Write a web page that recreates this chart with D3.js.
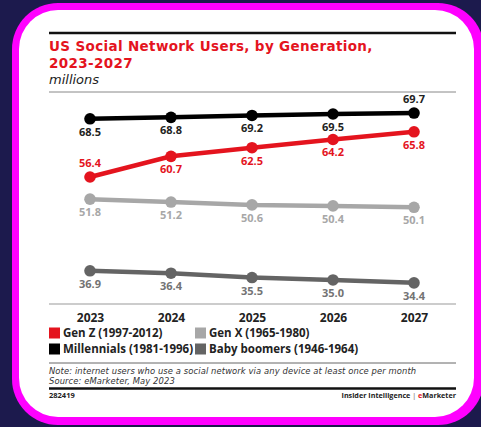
<!DOCTYPE html>
<html>
<head>
<meta charset="utf-8">
<script src="https://cdn.jsdelivr.net/npm/d3@7"></script>
<style>
  html, body { margin: 0; padding: 0; background: #1c1a4d; }
  svg { display: block; }
  text { font-family: "Open Sans", "DejaVu Sans", sans-serif; }
</style>
</head>
<body>
<div id="chart"></div>
<script>
// data
var years = ["2023", "2024", "2025", "2026", "2027"];
var genZ = [56.4, 60.7, 62.5, 64.2, 65.8];
var millennials = [68.5, 68.8, 69.2, 69.5, 69.7];
var genX = [51.8, 51.2, 50.6, 50.4, 50.1];
var boomers = [36.9, 36.4, 35.5, 35.0, 34.4];
var seriesNames = ["Gen Z (1997-2012)", "Millennials (1981-1996)", "Gen X (1965-1980)", "Baby boomers (1946-1964)"];

var width = 481, height = 427;

var series = [
  {name: seriesNames[0], values: genZ, color: "#e4141e", label: "#e4141e", above: [true, false, false, false, false]},
  {name: seriesNames[1], values: millennials, color: "#000000", label: "#222222", above: [false, false, false, false, true]},
  {name: seriesNames[2], values: genX, color: "#a7a7a7", label: "#a7a7a7", above: [false, false, false, false, false]},
  {name: seriesNames[3], values: boomers, color: "#646464", label: "#737373", above: [false, false, false, false, false]}
];

var svg = d3.select("#chart").append("svg")
    .attr("width", width)
    .attr("height", height);

// background + magenta frame + white card
svg.append("rect").attr("width", width).attr("height", height).attr("fill", "#1c1a4d");
svg.append("rect")
    .attr("x", 12).attr("y", 3).attr("width", 472).attr("height", 422)
    .attr("rx", 46).attr("fill", "#ff00ff");
svg.append("rect")
    .attr("x", 19).attr("y", 10).attr("width", 455).attr("height", 407)
    .attr("rx", 39).attr("fill", "#ffffff");

var left = 49, right = 456;

// header
svg.append("line").attr("x1", left).attr("x2", right).attr("y1", 33).attr("y2", 33)
    .attr("stroke", "#111").attr("stroke-width", 2.5);
svg.append("text").attr("x", left).attr("y", 51)
    .attr("fill", "#e4141e").style("font-family", "'DejaVu Sans', sans-serif")
    .style("font-size", "13.5px").style("font-weight", 700).style("letter-spacing", "0.35px")
    .text("US Social Network Users, by Generation,");
svg.append("text").attr("x", left).attr("y", 68)
    .attr("fill", "#e4141e").style("font-family", "'DejaVu Sans', sans-serif")
    .style("font-size", "13.5px").style("font-weight", 700).style("letter-spacing", "0.35px")
    .text("2023-2027");
svg.append("text").attr("x", left).attr("y", 84)
    .attr("fill", "#222").style("font-family", "'DejaVu Sans', sans-serif")
    .style("font-size", "13px").style("font-style", "italic")
    .text("millions");
svg.append("line").attr("x1", left).attr("x2", right).attr("y1", 92).attr("y2", 92)
    .attr("stroke", "#888").attr("stroke-width", 1);

// scales
var xScale = d3.scalePoint().domain(years).range([90, 414]);
var yScale = d3.scaleLinear().domain([30, 70]).range([304, 111.6]);

// x axis
var xAxis = d3.axisBottom(xScale).tickSize(0).tickPadding(9);
var gx = svg.append("g")
    .attr("transform", "translate(0,304)")
    .call(xAxis);
gx.select(".domain").remove();
gx.selectAll("text")
    .style("font-size", "12px").style("font-weight", 700)
    .style("font-family", "'Open Sans', sans-serif")
    .attr("fill", "#222");
svg.append("line").attr("x1", left).attr("x2", right).attr("y1", 304).attr("y2", 304)
    .attr("stroke", "#999").attr("stroke-width", 1);

var line = d3.line()
    .x(function(d, i) { return xScale(years[i]); })
    .y(function(d) { return yScale(d); });

series.forEach(function(s) {
  var g = svg.append("g");
  g.append("path")
    .attr("d", line(s.values))
    .attr("fill", "none")
    .attr("stroke", s.color)
    .attr("stroke-width", 4.5);
  g.selectAll("circle")
    .data(s.values)
   .enter()
    .append("circle")
    .attr("cx", function(d, i) { return xScale(years[i]); })
    .attr("cy", function(d) { return yScale(d); })
    .attr("r", 5.8)
    .attr("fill", s.color);
  g.selectAll("text")
    .data(s.values)
   .enter()
    .append("text")
    .attr("x", function(d, i) { return xScale(years[i]); })
    .attr("y", function(d, i) { return yScale(d) + (s.above[i] ? -10 : 17); })
    .attr("text-anchor", "middle")
    .attr("fill", s.label)
    .style("font-size", "11px").style("font-weight", 700)
    .text(function(d) { return d.toFixed(1); });
});

// legend (two columns, filled down)
var legend = svg.append("g");
series.forEach(function(s, i) {
  var col = Math.floor(i / 2), row = i % 2;
  var lx = left + col * 146, ly = 333 + row * 16;
  legend.append("rect")
    .attr("x", lx).attr("y", ly - 5.5).attr("width", 11).attr("height", 11)
    .attr("fill", s.color);
  legend.append("text")
    .attr("x", lx + 14).attr("y", ly + 4)
    .attr("fill", "#222")
    .style("font-size", "11.5px").style("font-weight", 700)
    .text(s.name);
});

// footer
svg.append("line").attr("x1", left).attr("x2", right).attr("y1", 363).attr("y2", 363)
    .attr("stroke", "#666").attr("stroke-width", 1);
svg.append("text").attr("x", left).attr("y", 374)
    .attr("fill", "#333").style("font-family", "'DejaVu Sans', sans-serif")
    .style("font-size", "8.4px").style("font-style", "italic").style("letter-spacing", "0.1px")
    .text("Note: internet users who use a social network via any device at least once per month");
svg.append("text").attr("x", left).attr("y", 384)
    .attr("fill", "#333").style("font-family", "'DejaVu Sans', sans-serif")
    .style("font-size", "8.4px").style("font-style", "italic").style("letter-spacing", "0.1px")
    .text("Source: eMarketer, May 2023");
svg.append("line").attr("x1", left).attr("x2", right).attr("y1", 388.5).attr("y2", 388.5)
    .attr("stroke", "#111").attr("stroke-width", 2.5);
svg.append("text").attr("x", left).attr("y", 398)
    .attr("fill", "#222").style("font-size", "7.5px").style("font-weight", 700)
    .text("282419");
var brand = svg.append("text").attr("x", right).attr("y", 398)
    .attr("text-anchor", "end")
    .attr("fill", "#222").style("font-size", "7.2px").style("font-weight", 700);
brand.append("tspan").text("Insider Intelligence ");
brand.append("tspan").attr("fill", "#999").text("|");
brand.append("tspan").attr("fill", "#e4141e").text(" e");
brand.append("tspan").text("Marketer");
</script>
</body>
</html>
